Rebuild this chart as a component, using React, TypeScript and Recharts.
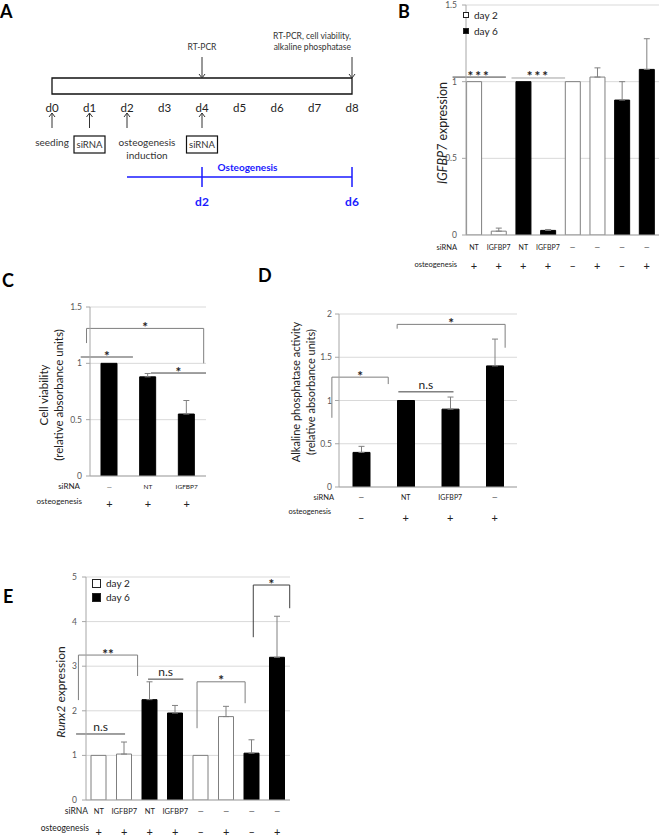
import React from 'react';
import {
  ComposedChart, ScatterChart, Scatter, Bar, Cell, ErrorBar, XAxis, YAxis, CartesianGrid,
  ReferenceLine, ReferenceDot, ReferenceArea, Legend,
} from 'recharts';

const FONT = 'Lato, "Noto Sans", sans-serif';
const INK = '#222';
const BLUE = '#1a1aff';

// ---------- A: timeline ----------
const timelineDays = [0, 1, 2, 3, 4, 5, 6, 7, 8];
const readouts = [
  { day: 4, lines: ['RT-PCR'] },
  { day: 8, lines: ['RT-PCR, cell viability,', 'alkaline phosphatase'] },
];
const treatments = [
  { day: 0, lines: ['seeding'], boxed: false },
  { day: 1, lines: ['siRNA'], boxed: true },
  { day: 2, lines: ['osteogenesis', 'induction'], boxed: false },
  { day: 4, lines: ['siRNA'], boxed: true },
];
const osteoInductionDay = 2;
const osteoSamplingDays = [4, 8];

// ---------- B: IGFBP7 expression ----------
const bSirna = ['NT', 'IGFBP7', 'NT', 'IGFBP7', '—', '—', '—', '—'];
const bOsteo = ['+', '+', '+', '+', '–', '+', '–', '+'];
const bDay = [2, 2, 6, 6, 2, 2, 6, 6];
const bValues = [1, 0.025, 1, 0.03, 1, 1.03, 0.88, 1.08];
const bErrors = [null, 0.02, null, 0.006, null, 0.06, 0.12, 0.2];
const bTicks = [0, 0.5, 1, 1.5];

// ---------- C: cell viability ----------
const cSirna = ['—', 'NT', 'IGFBP7'];
const cOsteo = ['+', '+', '+'];
const cValues = [1, 0.88, 0.55];
const cErrors = [null, 0.03, 0.12];
const cTicks = [0, 0.5, 1, 1.5];

// ---------- D: alkaline phosphatase ----------
const dSirna = ['—', 'NT', 'IGFBP7', '—'];
const dOsteo = ['–', '+', '+', '+'];
const dValues = [0.4, 1, 0.9, 1.4];
const dErrors = [0.07, null, 0.14, 0.31];
const dTicks = [0, 0.5, 1, 1.5, 2];

// ---------- E: Runx2 expression ----------
const eSirna = ['NT', 'IGFBP7', 'NT', 'IGFBP7', '—', '—', '—', '—'];
const eOsteo = ['+', '+', '+', '+', '–', '+', '–', '+'];
const eDay = [2, 2, 6, 6, 2, 2, 6, 6];
const eValues = [1, 1.03, 2.25, 1.95, 1, 1.87, 1.05, 3.2];
const eErrors = [null, 0.27, 0.4, 0.17, null, 0.23, 0.3, 0.92];
const eTicks = [0, 1, 2, 3, 4, 5];

const legendItems = [
  { label: 'day 2', fill: '#fff' },
  { label: 'day 6', fill: '#000' },
];

// significance marks: x in category units, y in value units
type Sig = { x1: number; x2: number; y: number; yl?: number; yr?: number; text: string; color: string; sw?: number };

const bSig: Sig[] = [
  { x1: -0.32, x2: 1.57, y: 1.03, text: '***', color: '#404040' },
  { x1: 1.77, x2: 3.67, y: 1.024, text: '***', color: '#a0a0a0' },
];
const cSig: Sig[] = [
  { x1: -0.06, x2: 1.96, y: 1.31, yl: 1.18, yr: 1.0, text: '*', color: '#7f7f7f' },
  { x1: -0.16, x2: 0.74, y: 1.056, text: '*', color: '#a6a6a6', sw: 2 },
  { x1: 1.05, x2: 2.0, y: 0.914, text: '*', color: '#404040' },
];
const dSig: Sig[] = [
  { x1: -0.12, x2: 0.83, y: 1.27, yl: 0.8, yr: 1.19, text: '*', color: '#7f7f7f' },
  { x1: 0.98, x2: 2.8, y: 1.88, yl: 1.83, yr: 1.61, text: '*', color: '#7f7f7f' },
  { x1: 1.0, x2: 1.93, y: 1.1, text: 'n.s', color: '#404040' },
];
const eSig: Sig[] = [
  { x1: -0.34, x2: 1.34, y: 1.48, text: 'n.s', color: '#404040' },
  { x1: -0.26, x2: 1.77, y: 3.25, yl: 2.24, yr: 2.78, text: '**', color: '#7f7f7f' },
  { x1: 2.13, x2: 3.34, y: 2.71, text: 'n.s', color: '#404040' },
  { x1: 3.81, x2: 5.46, y: 2.65, yl: 1.61, yr: 2.17, text: '*', color: '#7f7f7f' },
  { x1: 5.74, x2: 6.99, y: 4.82, yl: 3.65, yr: 4.3, text: '*', color: '#404040' },
];

const panelLetters = [
  { t: 'A', x: 0, y: 18 },
  { t: 'B', x: 398, y: 18 },
  { t: 'C', x: 2, y: 287 },
  { t: 'D', x: 258, y: 282 },
  { t: 'E', x: 3, y: 603 },
];

function sigMarks(list: Sig[]) {
  const out: React.ReactElement[] = [];
  list.forEach((s, i) => {
    const line = { xAxisId: 'n', stroke: s.color, strokeWidth: s.sw ?? 1, ifOverflow: 'visible' as const };
    out.push(<ReferenceLine key={`h${i}`} {...line} segment={[{ x: s.x1, y: s.y }, { x: s.x2, y: s.y }]} />);
    if (s.yl != null) out.push(<ReferenceLine key={`l${i}`} {...line} segment={[{ x: s.x1, y: s.yl }, { x: s.x1, y: s.y }]} />);
    if (s.yr != null) out.push(<ReferenceLine key={`r${i}`} {...line} segment={[{ x: s.x2, y: s.yr }, { x: s.x2, y: s.y }]} />);
    const star = s.text.includes('*');
    out.push(
      <ReferenceDot
        key={`t${i}`}
        xAxisId="n"
        x={(s.x1 + s.x2) / 2}
        y={s.y}
        r={0}
        ifOverflow="visible"
        shape={(d: any) => (
          <text
            x={d.cx}
            y={d.cy + (star ? 3.5 : -3)}
            textAnchor="middle"
            fontFamily={FONT}
            fontSize={star ? 13.5 : 12}
            fontWeight={star ? 700 : 400}
            letterSpacing={star && s.text.length > 2 ? 2 : 0}
            fill={INK}
          >
            {s.text}
          </text>
        )}
      />
    );
  });
  return out;
}

type Rows = { dx1: number; dx2: number; dy1: number; dy2: number; dySym: number; head: number; cat: number };
type Title = { lines: React.ReactNode[]; xs: number[]; y: number; size: number };

type PanelProps = {
  box: { left: number; top: number; width: number; height: number };
  margin: { top: number; right: number; bottom: number; left: number };
  sirna: string[];
  osteo: string[];
  values: number[];
  errors: (number | null)[];
  days?: number[];
  ticks: number[];
  barSize: number;
  padLeft?: number;
  axisH: number;
  tickGap: number;
  title: Title;
  rows: Rows;
  sig: Sig[];
  legend?: { left: number; top: number; sq: number; rowH: number };
};

const YAXIS_W = 40;

function BarPanel(p: PanelProps) {
  const data = p.values.map((v, i) => ({
    sirna: p.sirna[i],
    osteo: p.osteo[i],
    value: v,
    err: p.errors[i] == null ? null : [0, p.errors[i]],
    day: p.days ? p.days[i] : 6,
  }));
  const n = data.length;
  const pad = { left: p.padLeft ?? 0, right: 0 };
  const yMax = p.ticks[p.ticks.length - 1];
  const plotLeft = p.margin.left + YAXIS_W;
  const axisY = p.box.height - p.margin.bottom - p.axisH;

  return (
    <div style={{ position: 'absolute', left: p.box.left, top: p.box.top }}>
      <ComposedChart width={p.box.width} height={p.box.height} data={data} margin={p.margin}>
        <CartesianGrid vertical={false} stroke="#d9d9d9" />
        <XAxis
          dataKey="sirna"
          height={p.axisH}
          padding={pad}
          interval={0}
          tickSize={0}
          tickMargin={0}
          tickLine={false}
          axisLine={{ stroke: '#a6a6a6' }}
          tick={(t: any) => (
            <g fontFamily={FONT} fill={INK}>
              <text x={t.x} y={axisY + p.rows.dy1} textAnchor="middle" dominantBaseline="central" fontSize={p.rows.cat}>
                {p.sirna[t.index]}
              </text>
              <text x={t.x} y={axisY + p.rows.dySym} textAnchor="middle" dominantBaseline="central" fontSize={11}>
                {p.osteo[t.index]}
              </text>
            </g>
          )}
          label={{
            content: () => (
              <g fontFamily={FONT} fontSize={p.rows.head} fill={INK}>
                <text x={plotLeft - p.rows.dx1} y={axisY + p.rows.dy1} textAnchor="end" dominantBaseline="central">siRNA</text>
                <text x={plotLeft - p.rows.dx2} y={axisY + p.rows.dy2} textAnchor="end" dominantBaseline="central">osteogenesis</text>
              </g>
            ),
          }}
        />
        <XAxis xAxisId="n" type="number" domain={[-0.5, n - 0.5]} allowDataOverflow hide padding={pad} />
        <YAxis
          domain={[0, yMax]}
          ticks={p.ticks}
          allowDataOverflow
          width={YAXIS_W}
          tickSize={4}
          tickMargin={p.tickGap}
          axisLine={{ stroke: '#a6a6a6' }}
          tickLine={{ stroke: '#a6a6a6' }}
          tick={{ fontSize: 8.5, fill: '#595959', fontFamily: FONT }}
          label={{
            content: () => (
              <g fontFamily={FONT} fontSize={p.title.size} fill={INK}>
                {p.title.lines.map((ln, i) => (
                  <text
                    key={i}
                    transform={`translate(${p.title.xs[i]},${p.title.y}) rotate(-90)`}
                    textAnchor="middle"
                    dominantBaseline="central"
                  >
                    {ln}
                  </text>
                ))}
              </g>
            ),
          }}
        />
        {p.legend && (
          <Legend
            layout="horizontal"
            verticalAlign="middle"
            align="center"
            wrapperStyle={{ left: p.legend.left, top: p.legend.top, width: 'auto' }}
            content={() => (
              <div style={{ fontFamily: FONT, fontSize: 10, color: INK }}>
                {legendItems.map((it) => (
                  <div key={it.label} style={{ display: 'flex', alignItems: 'center', height: p.legend!.rowH }}>
                    <span
                      style={{
                        display: 'inline-block',
                        width: p.legend!.sq,
                        height: p.legend!.sq,
                        boxSizing: 'border-box',
                        border: '1px solid #222',
                        background: it.fill,
                        marginRight: 5,
                      }}
                    />
                    {it.label}
                  </div>
                ))}
              </div>
            )}
          />
        )}
        <Bar dataKey="value" barSize={p.barSize} isAnimationActive={false}>
          {data.map((d, i) => (
            <Cell key={i} fill={d.day === 2 ? '#fff' : '#000'} stroke={d.day === 2 ? '#7f7f7f' : '#000'} strokeWidth={1} />
          ))}
          <ErrorBar dataKey="err" width={3} stroke="#808080" strokeWidth={1} direction="y" />
        </Bar>
        {sigMarks(p.sig)}
      </ComposedChart>
    </div>
  );
}

// ---------- timeline pieces ----------
const A_LEVEL = { boxTop: 78, boxBottom: 94, dayText: 107, arrowTip: 113, osteoLine: 177 };
const A_W = 380;
const A_H = 215;

const Arrow = ({ x, from, to, color = '#333' }: { x: number; from: number; to: number; color?: string }) => {
  const dir = to > from ? 1 : -1;
  return (
    <g stroke={color} strokeWidth={1} fill="none">
      <line x1={x} y1={from} x2={x} y2={to} />
      <polyline points={`${x - 3},${to - dir * 4} ${x},${to} ${x + 3},${to - dir * 4}`} />
    </g>
  );
};

function TimelinePanel() {
  const lastDay = timelineDays[timelineDays.length - 1];
  const dayPts = timelineDays.map((d) => ({ x: d, y: A_LEVEL.dayText, label: `d${d}` }));
  const readPts = readouts.map((r) => ({ x: r.day, y: A_LEVEL.boxTop, lines: r.lines }));
  const treatPts = treatments.map((t) => ({ x: t.day, y: A_LEVEL.arrowTip, lines: t.lines, boxed: t.boxed }));
  const markPts = osteoSamplingDays.map((d) => ({ x: d, y: A_LEVEL.osteoLine, label: `d${d - osteoInductionDay}` }));

  return (
    <div style={{ position: 'absolute', left: 0, top: 0 }}>
      <ScatterChart width={A_W} height={A_H} margin={{ top: 0, right: 28, bottom: 0, left: 52 }}>
        <XAxis type="number" dataKey="x" domain={[0, lastDay]} hide />
        <YAxis type="number" dataKey="y" domain={[0, A_H]} reversed hide />
        <ReferenceArea
          x1={0}
          x2={lastDay}
          y1={A_LEVEL.boxTop}
          y2={A_LEVEL.boxBottom}
          fill="#fff"
          fillOpacity={1}
          stroke="#111"
          strokeWidth={1.3}
          ifOverflow="visible"
        />
        <ReferenceLine
          segment={[{ x: osteoInductionDay, y: A_LEVEL.osteoLine }, { x: lastDay, y: A_LEVEL.osteoLine }]}
          stroke={BLUE}
          strokeWidth={1.5}
          ifOverflow="visible"
        />
        <ReferenceDot
          x={(osteoInductionDay + lastDay) / 2}
          y={A_LEVEL.osteoLine}
          r={0}
          ifOverflow="visible"
          shape={(d: any) => (
            <text x={d.cx + 8} y={d.cy - 10} textAnchor="middle" dominantBaseline="central" fontFamily={FONT} fontSize={10} fontWeight={700} fill={BLUE}>
              Osteogenesis
            </text>
          )}
        />
        <Scatter
          data={dayPts}
          isAnimationActive={false}
          shape={(s: any) => (
            <text x={s.cx} y={s.cy} textAnchor="middle" dominantBaseline="central" fontFamily={FONT} fontSize={11.5} fill={INK}>
              {s.payload.label}
            </text>
          )}
        />
        <Scatter
          data={readPts}
          isAnimationActive={false}
          shape={(s: any) => {
            const lines: string[] = s.payload.lines;
            const top = s.cy - 21;
            const atEnd = s.payload.x === lastDay;
            return (
              <g>
                <Arrow x={s.cx} from={top} to={s.cy} />
                {lines.map((ln, i) => (
                  <text
                    key={i}
                    x={atEnd ? s.cx - 1 : s.cx}
                    y={top - 10 - (lines.length - 1 - i) * 11}
                    textAnchor={atEnd ? 'end' : 'middle'}
                    dominantBaseline="central"
                    fontFamily={FONT}
                    fontSize={8.5}
                    fill="#333"
                  >
                    {ln}
                  </text>
                ))}
              </g>
            );
          }}
        />
        <Scatter
          data={treatPts}
          isAnimationActive={false}
          shape={(s: any) => {
            const lines: string[] = s.payload.lines;
            const base = s.cy + 15;
            const tx = lines.length > 1 ? s.cx + 20 : s.cx;
            return (
              <g>
                <Arrow x={s.cx} from={base} to={s.cy} />
                {s.payload.boxed ? (
                  <g>
                    <rect x={s.cx - 15.5} y={base + 8} width={31} height={17} fill="#fff" stroke="#111" strokeWidth={1.2} />
                    <text x={s.cx} y={base + 16.5} textAnchor="middle" dominantBaseline="central" fontFamily={FONT} fontSize={9.5} fill="#333">
                      {lines[0]}
                    </text>
                  </g>
                ) : (
                  lines.map((ln, i) => (
                    <text key={i} x={tx} y={base + 14 + i * 13} textAnchor="middle" dominantBaseline="central" fontFamily={FONT} fontSize={10} fill="#333">
                      {ln}
                    </text>
                  ))
                )}
              </g>
            );
          }}
        />
        <Scatter
          data={markPts}
          isAnimationActive={false}
          shape={(s: any) => (
            <g>
              <line x1={s.cx} y1={s.cy - 10} x2={s.cx} y2={s.cy + 10} stroke={BLUE} strokeWidth={1.5} />
              <text x={s.cx} y={s.cy + 24} textAnchor="middle" dominantBaseline="central" fontFamily={FONT} fontSize={12} fontWeight={700} fill={BLUE}>
                {s.payload.label}
              </text>
            </g>
          )}
        />
      </ScatterChart>
    </div>
  );
}

export default function App() {
  return (
    <div style={{ position: 'absolute', left: 0, top: 0, width: 660, height: 836, background: '#fff', overflow: 'hidden', fontFamily: FONT }}>
      <TimelinePanel />

      <BarPanel
        box={{ left: 380, top: 0, width: 280, height: 275 }}
        margin={{ top: 5, right: 1, bottom: 3, left: 46 }}
        sirna={bSirna}
        osteo={bOsteo}
        values={bValues}
        errors={bErrors}
        days={bDay}
        ticks={bTicks}
        barSize={15}
        padLeft={-4.4}
        axisH={37}
        tickGap={5}
        title={{ lines: [<><tspan fontStyle="italic">IGFBP7</tspan> expression</>], xs: [62], y: 133, size: 12.5 }}
        rows={{ dx1: 9, dx2: 9, dy1: 12, dy2: 29, dySym: 30, head: 7.5, cat: 7 }}
        sig={bSig}
        legend={{ left: 83, top: 7, sq: 6, rowH: 16 }}
      />

      <BarPanel
        box={{ left: 0, top: 260, width: 230, height: 255 }}
        margin={{ top: 47, right: 24, bottom: 2, left: 50 }}
        sirna={cSirna}
        osteo={cOsteo}
        values={cValues}
        errors={cErrors}
        ticks={cTicks}
        barSize={16}
        axisH={37}
        tickGap={4}
        title={{ lines: ['Cell viability', '(relative absorbance units)'], xs: [43, 58], y: 135, size: 11.5 }}
        rows={{ dx1: 10, dx2: 8, dy1: 10, dy2: 25, dySym: 27, head: 8, cat: 6.5 }}
        sig={cSig}
      />

      <BarPanel
        box={{ left: 250, top: 260, width: 280, height: 265 }}
        margin={{ top: 54, right: 13, bottom: 1, left: 49 }}
        sirna={dSirna}
        osteo={dOsteo}
        values={dValues}
        errors={dErrors}
        ticks={dTicks}
        barSize={17}
        axisH={37}
        tickGap={3}
        title={{ lines: ['Alkaline phosphatase activity', '(relative absorbance units)'], xs: [45, 60], y: 132, size: 11 }}
        rows={{ dx1: 5, dx2: 8, dy1: 10, dy2: 24, dySym: 30, head: 7.5, cat: 7 }}
        sig={dSig}
      />

      <BarPanel
        box={{ left: 0, top: 560, width: 300, height: 276 }}
        margin={{ top: 17, right: 10, bottom: 0, left: 46 }}
        sirna={eSirna}
        osteo={eOsteo}
        values={eValues}
        errors={eErrors}
        days={eDay}
        ticks={eTicks}
        barSize={15}
        axisH={36}
        tickGap={5}
        title={{ lines: [<><tspan fontStyle="italic">Runx2</tspan> expression</>], xs: [60], y: 132, size: 12 }}
        rows={{ dx1: -2, dx2: -3, dy1: 11, dy2: 28, dySym: 31, head: 8.5, cat: 7.5 }}
        sig={eSig}
        legend={{ left: 92, top: 16, sq: 9, rowH: 14 }}
      />

      <svg width={660} height={836} style={{ position: 'absolute', left: 0, top: 0, pointerEvents: 'none' }}>
        {panelLetters.map((l) => (
          <text key={l.t} x={l.x} y={l.y} fontFamily={FONT} fontSize={18} fontWeight={700} fill="#000">
            {l.t}
          </text>
        ))}
      </svg>
    </div>
  );
}
